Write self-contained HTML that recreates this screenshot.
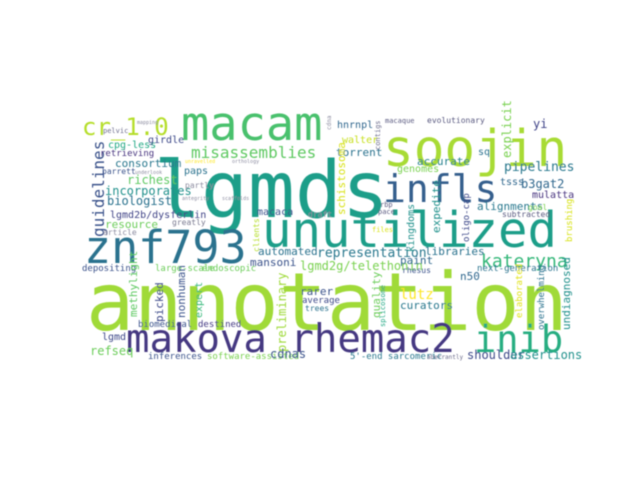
<!DOCTYPE html>
<html>
<head>
<meta charset="utf-8">
<style>
html,body{margin:0;padding:0;background:#fff;}
svg{display:block;}
text{font-family:"DejaVu Sans Mono","Liberation Mono",monospace;}
</style>
</head>
<body>
<svg id="cloud" width="640" height="480" viewBox="0 0 640 480" xmlns="http://www.w3.org/2000/svg">
<defs><filter id="soft" x="-5%" y="-5%" width="110%" height="110%"><feGaussianBlur stdDeviation="0.5"/></filter></defs>
<rect x="0" y="0" width="640" height="480" fill="#ffffff"/>
<g id="words" filter="url(#soft)"></g>
</svg>
<script>
const words = ["annotation","lgmds","soojin","macam","unutilized","znf793","makova rhemac2","inib","infls","cr_1.0",
"misassemblies","guidelines","kateryna","representation","pipelines","b3gat2","cpg-less","girdle","pelvic","mapping",
"retrieving","consortium","barrett","underlook","richest","incorporates","biologist","lgmd2b/dysferlin","resource","article",
"greatly","paps","partly","macaca","draft","unravelled","orthology","antegrity","scaffolds","macaque",
"evolutionary","hnrnpl","walter","torrent","contigs","cdna","explicit","yi","sq","accurate",
"genomes","schistosoma","tsss","mulatta","alignments","goal","subtracted","expedite","oligo-cap","kingdoms",
"rbp","pace","files","automated","depositing","large-scale","endoscopic","mansoni","lgmd2g/telethonin","methylight",
"picked","nonhuman","expert","preliminary","rarer","average","trees","biomedical","destined","lgmd",
"refseq","inferences","software-assisted","cdnas","libraries","paint","rhesus","next-generation","n50","lutz",
"curators","quality","splicosome","elaborated","overwhelming","undiagnosed","brushing","shoulder","assertions","5'-end sarcomeric",
"aberrantly","clients"];
const xs = [86,154,383,181,262,84,126,474,383,82,
191,104,481,317,504,521,108,148,103,137,
100,115,102,135,127,105,107,110,105,103,
172,184,185,257,308,185,232,182,222,385,
427,337,342,336,380,331,511,533,478,417,
397,345,500,532,477,528,502,440,469,414,
380,378,372,258,82,155,202,250,300,137,
163,185,202,286,300,302,305,138,198,102,
90,148,207,270,425,400,402,477,460,400,
400,380,385,522,544,570,572,467,510,350,
427,259];
const ys = [330,217,166,140,247,263,352,352,202,135,
158,237,267,257,171,188,148,143,133,124,
156,167,174,174,184,195,205,218,228,235,
225,174,188,215,217,163,163,200,200,123,
123,128,143,156,150,130,158,128,155,165,
172,215,185,198,210,210,217,233,242,252,
207,214,232,255,271,271,271,266,270,317,
322,318,318,352,295,303,311,327,327,340,
355,359,359,358,255,264,273,271,280,299,
309,318,327,318,330,330,242,359,359,359,
359,252];
const sizes = [80,78,51,47,49,45,39,37,38,24,
16,16,18,13,13,12,10,10,7,5,
9,11,8,5,12,12,12,10,11,8,
8,10,8,10,8,5,5,5,5,7,
8,10,10,11,7,6,12,12,10,11,
10,11,10,10,11,8,8,11,9,10,
7,7,7,11,9,9,9,11,12,11,
11,11,10,12,11,9,8,9,9,10,
12,9,9,12,11,11,8,9,11,14,
11,11,7,9,9,11,9,12,12,9,
6,8];
const colors = ["#a0da39","#1f9e89","#a8db34","#4ac16d","#1f9e89","#2c728e","#453781","#27ad81","#355f8d","#b5de2b",
"#5ec962","#3b528b","#35b779","#2a788e","#2a788e","#31688e","#22a884","#3e4989","#6c6c8c","#8c8ca0",
"#46337e","#2a788e","#3b528b","#8c8ca0","#5ec962","#21918c","#2c728e","#414487","#6ccd5a","#8c8ca0",
"#7a7a90","#2c728e","#8c8ca0","#3b528b","#8c8ca0","#fde725","#8c8ca0","#8c8ca0","#8c8ca0","#5a5a80",
"#5a5a80","#31688e","#c8e020","#2c728e","#6c6c8c","#8c8ca0","#7ad151","#404488","#2c728e","#26828e",
"#7ad151","#d8e219","#31688e","#46337e","#2a788e","#7ad151","#5a5a80","#21918c","#3e4989","#21918c",
"#5a5a80","#5a5a80","#d8e219","#2c728e","#3b528b","#6ccd5a","#6ccd5a","#3b528b","#7ad151","#5ec962",
"#3e4989","#3b528b","#35b779","#9fda3a","#3b528b","#3e4989","#2c728e","#3b528b","#443983","#3e4989",
"#6ccd5a","#3b528b","#7ad151","#3b528b","#2c728e","#31688e","#3b528b","#2c728e","#31688e","#fde725",
"#2a788e","#6ccd5a","#22a884","#e0e31a","#2c728e","#21918c","#d8e219","#3e4989","#21918c","#2a788e",
"#6c6c8c","#b5de2b"];
const rots = [0,0,0,0,0,0,0,0,0,0,
0,1,0,0,0,0,0,0,0,0,
0,0,0,0,0,0,0,0,0,0,
0,0,0,0,0,0,0,0,0,0,
0,0,0,0,1,1,1,0,0,0,
0,1,0,0,0,0,0,1,1,1,
0,0,0,0,0,0,0,0,0,1,
1,1,1,1,0,0,0,0,0,0,
0,0,0,0,0,0,0,0,0,0,
0,1,1,1,1,1,1,0,0,0,
0,1];
const layer = document.getElementById('words');
for (let i = 0; i < words.length; i++) {
  const t = document.createElementNS('http://www.w3.org/2000/svg', 'text');
  
  
  t.setAttribute('x', xs[i]);
  t.setAttribute('y', ys[i]);
  t.setAttribute('font-size', sizes[i]);
  t.setAttribute('fill', colors[i]);
  if (rots[i]) t.setAttribute('transform', 'rotate(-90 ' + xs[i] + ' ' + ys[i] + ')');
  t.textContent = words[i];
  layer.appendChild(t);
}
</script>
</body>
</html>
